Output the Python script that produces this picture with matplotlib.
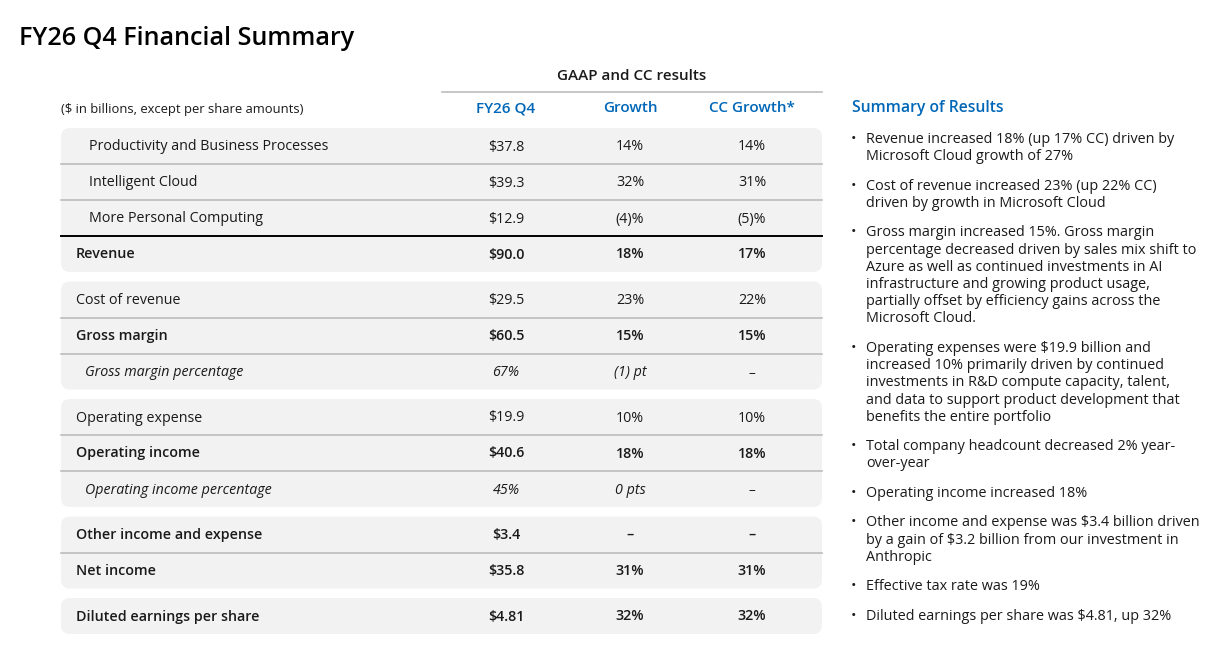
import matplotlib
matplotlib.use("Agg")
import matplotlib.pyplot as plt
from matplotlib.patches import FancyBboxPatch

plt.rcParams['font.family'] = ['Open Sans', 'DejaVu Sans']

title = 'FY26 Q4 Financial Summary'
units_note = '($ in billions, except per share amounts)'
group_header = 'GAAP and CC results'
col_headers = ['FY26 Q4', 'Growth', 'CC Growth*']

labels = ['Productivity and Business Processes', 'Intelligent Cloud', 'More Personal Computing',
          'Revenue', 'Cost of revenue', 'Gross margin', 'Gross margin percentage',
          'Operating expense', 'Operating income', 'Operating income percentage',
          'Other income and expense', 'Net income', 'Diluted earnings per share']
fy26_q4 = ['$37.8', '$39.3', '$12.9', '$90.0', '$29.5', '$60.5', '67%',
           '$19.9', '$40.6', '45%', '$3.4', '$35.8', '$4.81']
growth = ['14%', '32%', '(4)%', '18%', '23%', '15%', '(1) pt',
          '10%', '18%', '0 pts', '–', '31%', '32%']
cc_growth = ['14%', '31%', '(5)%', '17%', '22%', '15%', '–',
             '10%', '18%', '–', '–', '31%', '32%']
row_style = ['indent', 'indent', 'indent', 'bold', 'normal', 'bold', 'italic',
             'normal', 'bold', 'italic', 'bold', 'bold', 'bold']
group_sizes = [4, 3, 3, 2, 1]

summary_title = 'Summary of Results'
bullets = [
    ['Revenue increased 18% (up 17% CC) driven by', 'Microsoft Cloud growth of 27%'],
    ['Cost of revenue increased 23% (up 22% CC)', 'driven by growth in Microsoft Cloud'],
    ['Gross margin increased 15%. Gross margin', 'percentage decreased driven by sales mix shift to',
     'Azure as well as continued investments in AI', 'infrastructure and growing product usage,',
     'partially offset by efficiency gains across the', 'Microsoft Cloud.'],
    ['Operating expenses were $19.9 billion and', 'increased 10% primarily driven by continued',
     'investments in R&D compute capacity, talent,', 'and data to support product development that',
     'benefits the entire portfolio'],
    ['Total company headcount decreased 2% year-', 'over-year'],
    ['Operating income increased 18%'],
    ['Other income and expense was $3.4 billion driven', 'by a gain of $3.2 billion from our investment in',
     'Anthropic'],
    ['Effective tax rate was 19%'],
    ['Diluted earnings per share was $4.81, up 32%'],
]

BLUE = '#0067B8'
TEXT = '#1a1a1a'
ROW_BG = '#F2F2F2'
SEP = '#BDBDBD'
SEMI = 600

fig = plt.figure(figsize=(12.3, 6.61), dpi=100)
ax = fig.add_axes([0, 0, 1, 1])
ax.set_xlim(0, 1230)
ax.set_ylim(661, 0)
ax.axis('off')

ax.text(19, 45, title, fontsize=18.1, fontweight=SEMI, color='black', va='baseline', ha='left')

# column layout
left, right = 61, 822
col_x = [506, 630, 752]
row_h = 36
group_gap = 9.5
fs = 10.3
base_off = 4.5

ax.text(632, 75 + base_off, group_header, fontsize=11, fontweight=SEMI, color=TEXT,
        ha='center', va='baseline')
ax.plot([442, right], [91.5, 91.5], color=SEP, lw=1.2)
ax.text(61, 108 + base_off, units_note, fontsize=9.4, color=TEXT, ha='left', va='baseline')
for x, h in zip(col_x, col_headers):
    ax.text(x, 108 + base_off, h, fontsize=11, fontweight=SEMI, color=BLUE,
            ha='center', va='baseline')

top = 128
i = 0
for g in group_sizes:
    ax.add_patch(FancyBboxPatch((left, top), right - left, g * row_h,
                                boxstyle='round,pad=0,rounding_size=9',
                                fc=ROW_BG, ec='none', zorder=0))
    for k in range(g):
        yb = top + (k + 0.5) * row_h + base_off
        st = row_style[i]
        weight = SEMI if st == 'bold' else 'normal'
        fstyle = 'italic' if st == 'italic' else 'normal'
        lx = {'indent': 89, 'italic': 85}.get(st, 76)
        ax.text(lx, yb, labels[i], fontsize=fs, fontweight=weight, fontstyle=fstyle,
                color=TEXT, ha='left', va='baseline')
        for x, v in zip(col_x, [fy26_q4[i], growth[i], cc_growth[i]]):
            ax.text(x, yb, v, fontsize=fs, fontweight=weight, fontstyle=fstyle,
                    color=TEXT, ha='center', va='baseline')
        if k < g - 1:
            ysep = top + (k + 1) * row_h
            if labels[i + 1] == 'Revenue':
                ax.plot([left, right], [ysep, ysep], color='black', lw=1.4, zorder=1)
            else:
                ax.plot([left, right], [ysep, ysep], color=SEP, lw=1.2, zorder=1)
        i += 1
    top += g * row_h + group_gap

# summary panel
ax.text(852, 108 + base_off, summary_title, fontsize=11.3, fontweight=SEMI, color=BLUE,
        ha='left', va='baseline')
line_h = 17.2
para_gap = 12.3
y = 138
for para in bullets:
    ax.text(851, y + 5, '•', fontsize=10.5, color=TEXT, ha='left', va='baseline')
    for j, line in enumerate(para):
        ax.text(866, y + 5 + j * line_h, line, fontsize=10.4, color=TEXT,
                ha='left', va='baseline')
    y += len(para) * line_h + para_gap

fig.savefig('out.png', dpi=100, facecolor='white')
